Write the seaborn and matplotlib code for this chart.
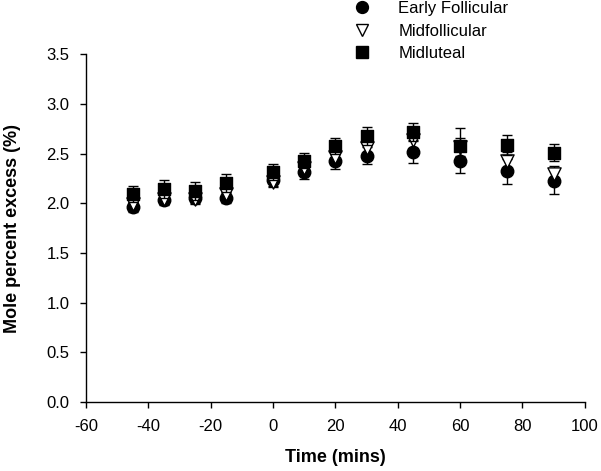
import matplotlib
matplotlib.use("Agg")
import matplotlib.pyplot as plt
import seaborn as sns
import pandas as pd

# time points (mins)
time = [-45, -35, -25, -15, 0, 10, 20, 30, 45, 60, 75, 90]

# mole percent excess per phase
early_follicular = [1.96, 2.03, 2.05, 2.05, 2.23, 2.31, 2.42, 2.48, 2.52, 2.43, 2.32, 2.22]
early_follicular_err = [0.05, 0.05, 0.05, 0.05, 0.06, 0.07, 0.08, 0.09, 0.12, 0.13, 0.13, 0.13]
midfollicular = [1.99, 2.04, 2.04, 2.09, 2.21, 2.35, 2.47, 2.56, 2.64, 2.57, 2.43, 2.29]
midfollicular_err = [0.05, 0.05, 0.05, 0.05, 0.05, 0.06, 0.07, 0.08, 0.08, 0.09, 0.09, 0.08]
midluteal = [2.09, 2.14, 2.12, 2.20, 2.31, 2.43, 2.58, 2.68, 2.72, 2.58, 2.59, 2.51]
midluteal_err = [0.08, 0.09, 0.09, 0.09, 0.08, 0.08, 0.08, 0.09, 0.09, 0.18, 0.10, 0.09]

phases = ["Early Follicular", "Midfollicular", "Midluteal"]

df = pd.concat([
    pd.DataFrame({"time": time, "mpe": early_follicular, "err": early_follicular_err, "phase": phases[0]}),
    pd.DataFrame({"time": time, "mpe": midfollicular, "err": midfollicular_err, "phase": phases[1]}),
    pd.DataFrame({"time": time, "mpe": midluteal, "err": midluteal_err, "phase": phases[2]}),
])

sns.set_style("ticks")
plt.rcParams["font.family"] = ["Liberation Sans", "DejaVu Sans"]
plt.rcParams["axes.unicode_minus"] = False
plt.rcParams["text.color"] = "black"
plt.rcParams["axes.labelcolor"] = "black"

fig = plt.figure(figsize=(6.01, 4.71), dpi=100)
ax = fig.add_axes([0.143, 0.1465, 0.830, 0.7385])

styles = {
    "Early Follicular": dict(marker="o", mfc="black", ms=9),
    "Midfollicular": dict(marker="v", mfc="white", ms=9.5),
    "Midluteal": dict(marker="s", mfc="black", ms=8.5),
}

handles = []
for i, ph in enumerate(phases):
    sub = df[df.phase == ph]
    st = styles[ph]
    ax.errorbar(sub.time, sub.mpe, yerr=sub.err, fmt="none", ecolor="black",
                elinewidth=1, capsize=3.5, capthick=1, zorder=2 + i * 2)
    sns.scatterplot(data=sub, x="time", y="mpe", marker=st["marker"], s=st["ms"] ** 2,
                    color=st["mfc"], edgecolor="black", linewidth=1, ax=ax,
                    zorder=3 + i * 2, legend=False)
    h, = ax.plot([], [], linestyle="none", marker=st["marker"], mfc=st["mfc"],
                 mec="black", mew=1, ms=st["ms"] * 0.95, label=ph)
    handles.append(h)

ax.set_xlim(-60, 100)
ax.set_ylim(0, 3.5)
ax.set_xticks(range(-60, 101, 20))
ax.set_yticks([0.0, 0.5, 1.0, 1.5, 2.0, 2.5, 3.0, 3.5])
ax.set_yticklabels([f"{v:.1f}" for v in [0.0, 0.5, 1.0, 1.5, 2.0, 2.5, 3.0, 3.5]])
ax.tick_params(axis="both", labelsize=12, length=4, width=1, color="black", labelcolor="black")
ax.tick_params(axis="x", pad=8)
ax.tick_params(axis="y", pad=8)
for s in ["left", "bottom"]:
    ax.spines[s].set_color("black")
    ax.spines[s].set_linewidth(1)
sns.despine(ax=ax)

ax.set_xlabel("Time (mins)", fontsize=13, fontweight="bold")
ax.set_ylabel("Mole percent excess (%)", fontsize=13, fontweight="bold")
ax.xaxis.set_label_coords(0.5, -0.135)
ax.yaxis.set_label_coords(-0.13, 0.5)

fig.legend(handles=handles, loc="upper left", bbox_to_anchor=(0.563, 1.012),
           frameon=False, fontsize=12, handletextpad=1.2, labelspacing=0.45,
           borderaxespad=0)

fig.savefig("out.png", dpi=100)
